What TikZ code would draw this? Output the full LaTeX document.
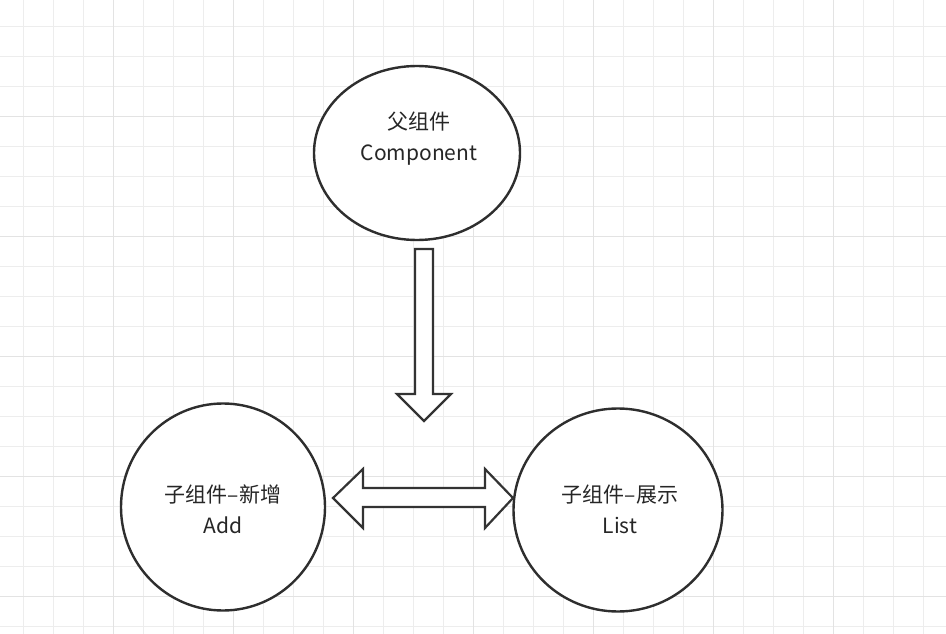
\documentclass[tikz,border=0pt]{standalone}
\usepackage{fontspec}
\setmainfont{Noto Sans CJK SC}
\usetikzlibrary{shapes.geometric}
\begin{document}
\begin{tikzpicture}[x=1pt,y=-1pt,
  bubble/.style={draw=black!82,line width=2.4pt,ellipse,fill=white},
  txt/.style={align=center,font=\fontsize{21}{31}\selectfont,text=black!85},
  fat/.style={draw=black!80,line width=2.2pt,fill=white,line join=miter}]
\useasboundingbox (0,0) rectangle (946,634);
\fill[white] (0,0) rectangle (946,634);
\foreach \x in {23,53,...,946} \draw[black!7,line width=0.8pt] (\x,0) -- (\x,634);
\foreach \y in {26,56,...,634} \draw[black!7,line width=0.8pt] (0,\y) -- (946,\y);
\foreach \x in {113,233,...,946} \draw[black!11,line width=0.8pt] (\x,0) -- (\x,634);
\foreach \y in {116,236,...,634} \draw[black!11,line width=0.8pt] (0,\y) -- (946,\y);
\node[bubble,minimum width=206,minimum height=174] (p) at (417,153) {};
\node[txt] (pt) at (419,139) {父组件\\Component};
\node[bubble,minimum width=204,minimum height=207] (a) at (223,507) {};
\node[txt] (at) at (223,509) {子组件–新增\\Add};
\node[bubble,minimum width=209,minimum height=203] (l) at (618,510) {};
\node[txt] (lt) at (620,509) {子组件–展示\\List};
\draw[fat] (415,249) -- (433,249) -- (433,394) -- (451,394) -- (424,421) -- (397,394) -- (415,394) -- cycle;
\draw[fat] (333,498) -- (363,469) -- (363,488) -- (485,488) -- (485,469) -- (513,498) -- (485,528) -- (485,507) -- (363,507) -- (363,528) -- cycle;
\end{tikzpicture}
\end{document}
